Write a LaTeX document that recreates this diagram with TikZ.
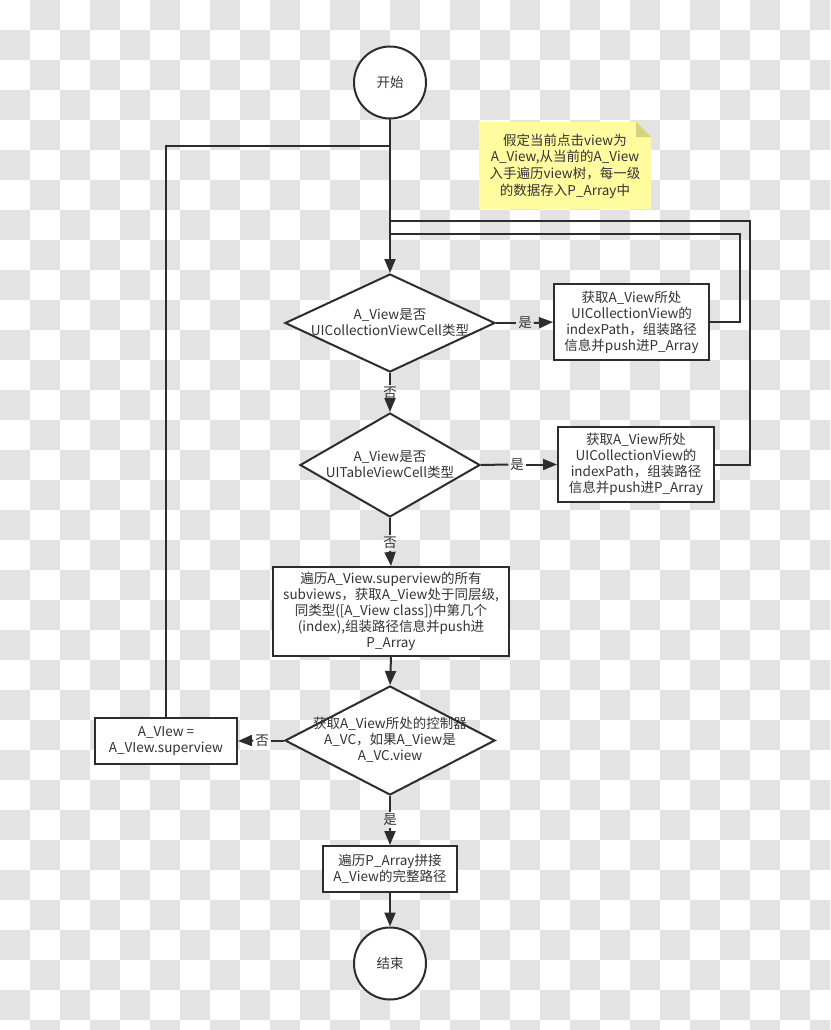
\documentclass[tikz,border=0pt]{standalone}
\usepackage{fontspec}
\setmainfont{Noto Sans CJK SC}
\usetikzlibrary{shapes.geometric,arrows.meta}
\definecolor{ln}{RGB}{45,45,45}
\definecolor{chk}{RGB}{227,227,227}
\definecolor{notey}{RGB}{255,252,160}
\definecolor{fold}{RGB}{212,210,125}
\definecolor{txtc}{RGB}{51,51,51}
\tikzset{
  boxn/.style={draw=ln, fill=white, rectangle, inner sep=0pt, align=center},
  dia/.style={draw=ln, fill=white, diamond, inner sep=0pt},
  dtext/.style={align=center, inner sep=0pt},
  circ/.style={draw=ln, fill=white, circle, minimum size=72pt, inner sep=0pt},
  arr/.style={-{Triangle[length=14pt,width=11pt]}},
  lbl/.style={inner sep=1pt},
  conn/.style={draw=ln, line width=2pt}
}
\begin{document}
\begin{tikzpicture}[x=1pt,y=-1pt,line width=2pt,text=txtc,
  font=\fontsize{13.5}{16}\selectfont]
\useasboundingbox (0,0) rectangle (830,1030);
% checkerboard background
\begin{scope}
\clip (0,0) rectangle (830,1030);
\fill[white] (0,0) rectangle (830,1030);
\foreach \i in {0,...,27}{
  \foreach \j in {0,...,34}{
    \pgfmathtruncatemacro{\pq}{mod(\i+\j,2)}
    \ifnum\pq=1 \fill[chk] (\i*30,\j*30) rectangle ++(30,30); \fi
  }
}
\end{scope}

% note
\node[minimum width=170pt, minimum height=85pt, inner sep=0pt] (note) at (565,165.5) {};
\fill[notey] (note.south west) -- (note.north west) -- ([xshift=-15pt]note.north east)
  -- ([yshift=-15pt]note.north east) -- (note.south east) -- cycle;
\fill[fold] ([xshift=-15pt]note.north east) -- ([yshift=-15pt]note.north east)
  -- ([xshift=-15pt,yshift=-15pt]note.north east) -- cycle;
\node[align=center, inner sep=0pt, font=\fontsize{13.5}{16.7}\selectfont] (notet) at (565,166)
  {假定当前点击view为\\A\_View,从当前的A\_View\\入手遍历view树，每一级\\的数据存入P\_Array中};

% junction coordinates on the trunk
\coordinate (j0) at (390,146);
\coordinate (j1) at (390,221);
\coordinate (j2) at (390,234);

% nodes
\node[circ] (s) at (390,82.5) {开始};
\node[dia, minimum width=210pt, minimum height=98pt] (d1) at (390,323) {};
\node[dtext] (d1t) at (390,323) {A\_View是否\\UICollectionViewCell类型};
\node[boxn, minimum width=155pt, minimum height=76pt] (b1) at (631.5,322) {获取A\_View所处\\UICollectionView的\\indexPath，组装路径\\信息并push进P\_Array};
\node[lbl] (l1) at (525,323) {是};
\node[lbl] (n1) at (390,393) {否};
\node[dia, minimum width=180pt, minimum height=104pt] (d2) at (390,465) {};
\node[dtext] (d2t) at (390,465) {A\_View是否\\UITableViewCell类型};
\node[boxn, minimum width=156pt, minimum height=75pt] (b2) at (636,464.5) {获取A\_View所处\\UICollectionView的\\indexPath，组装路径\\信息并push进P\_Array};
\node[lbl] (l2) at (517,464.5) {是};
\node[lbl] (n2) at (390,543) {否};
\node[boxn, minimum width=236pt, minimum height=89pt] (b3) at (391,611.5) {遍历A\_View.superview的所有\\subviews，获取A\_View处于同层级,\\同类型([A\_View class])中第几个\\(index),组装路径信息并push进\\P\_Array};
\node[dia, minimum width=210pt, minimum height=109pt] (d3) at (390,740.5) {};
\node[dtext] (d3t) at (390,740) {获取A\_View所处的控制器\\A\_VC，如果A\_View是\\A\_VC.view};
\node[lbl] (n3) at (262,740.5) {否};
\node[boxn, minimum width=142pt, minimum height=46pt] (b4) at (166,741) {A\_VIew =\\A\_VIew.superview};
\node[lbl] (n4) at (390,820) {是};
\node[boxn, minimum width=134pt, minimum height=46pt] (b5) at (390,869) {遍历P\_Array拼接\\A\_View的完整路径};
\node[circ] (e) at (390,963.5) {结束};

% connectors
\draw[conn] (b4.north) |- (j0);
\draw[conn] (b1.east) -- ++(30,0) |- (j2);
\draw[conn] (b2.east) -- ++(35,0) |- (j1);
\draw[conn,arr] (s.south) -- (d1.north);
\draw[conn] (d1.east) -- (l1.west);
\draw[conn,arr] (l1.east) -- (b1.west);
\draw[conn] (d1.south) -- (n1.north);
\draw[conn,arr] (n1.south) -- (d2.north);
\draw[conn] (d2.east) -- (l2.west);
\draw[conn,arr] (l2.east) -- (b2.west);
\draw[conn] (d2.south) -- (n2.north);
\draw[conn,arr] (n2.south) -- (b3.north);
\draw[conn,arr] (b3.south) -- (d3.north);
\draw[conn] (d3.west) -- (n3.east);
\draw[conn,arr] (n3.west) -- (b4.east);
\draw[conn] (d3.south) -- (n4.north);
\draw[conn,arr] (n4.south) -- (b5.north);
\draw[conn,arr] (b5.south) -- (e.north);
\end{tikzpicture}
\end{document}
